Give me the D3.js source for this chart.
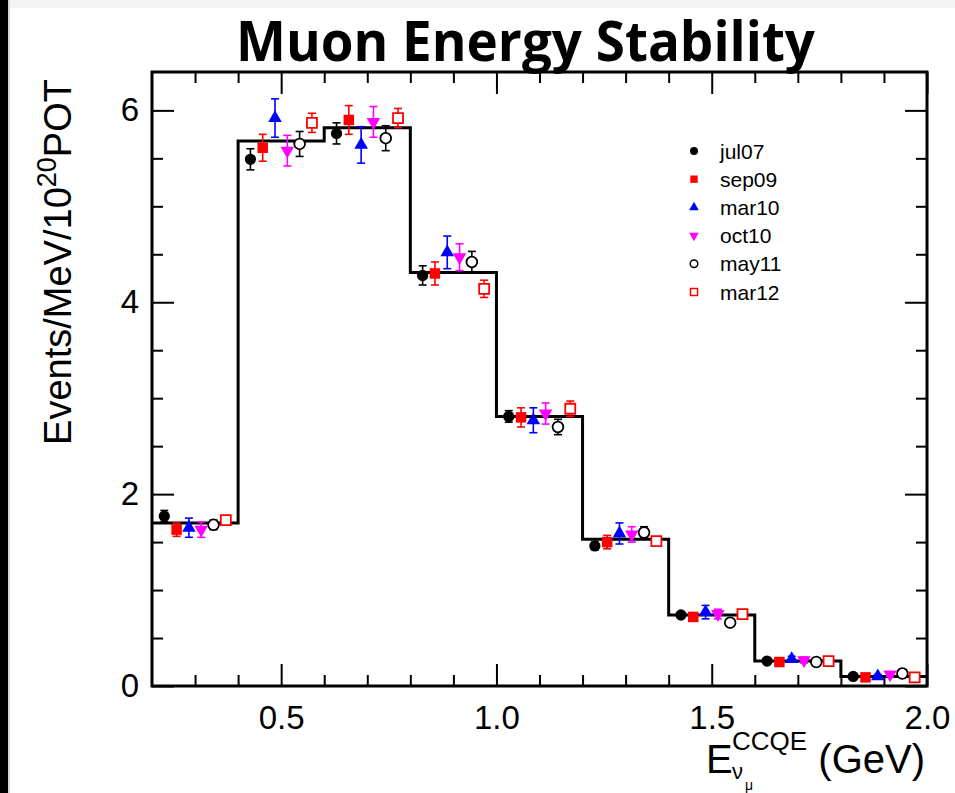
<!DOCTYPE html>
<html>
<head>
<meta charset="utf-8">
<script src="https://cdn.jsdelivr.net/npm/d3@7"></script>
<style>
  body { margin: 0; background: #fff; }
  svg text { font-family: "Liberation Sans", Arial, Helvetica, sans-serif; }
</style>
</head>
<body>
<svg id="chart" width="955" height="793"></svg>
<script>
// bin edges (GeV) and MC prediction histogram
const binEdges = [0.2, 0.4, 0.6, 0.8, 1.0, 1.2, 1.4, 1.6, 1.8, 2.0];
const mcPrediction = [1.70, 5.68, 5.82, 4.31, 2.81, 1.53, 0.74, 0.26, 0.10];

// run periods
const periods = ["jul07", "sep09", "mar10", "oct10", "may11", "mar12"];

const jul07 = [1.77, 5.49, 5.76, 4.28, 2.81, 1.46, 0.74, 0.26, 0.10];
const jul07Err = [0.06, 0.11, 0.11, 0.10, 0.06, 0.04, 0.02, 0.02, 0.02];
const sep09 = [1.63, 5.61, 5.90, 4.30, 2.80, 1.50, 0.72, 0.25, 0.09];
const sep09Err = [0.07, 0.14, 0.15, 0.12, 0.10, 0.07, 0.03, 0.02, 0.02];
const mar10 = [1.65, 5.92, 5.64, 4.52, 2.77, 1.59, 0.77, 0.28, 0.10];
const mar10Err = [0.10, 0.20, 0.19, 0.17, 0.13, 0.11, 0.07, 0.03, 0.02];
const oct10 = [1.63, 5.58, 5.88, 4.47, 2.84, 1.58, 0.75, 0.27, 0.12];
const oct10Err = [0.08, 0.16, 0.16, 0.14, 0.11, 0.08, 0.05, 0.03, 0.02];
const may11 = [1.68, 5.65, 5.71, 4.42, 2.70, 1.60, 0.66, 0.25, 0.13];
const may11Err = [0.05, 0.13, 0.13, 0.11, 0.08, 0.06, 0.02, 0.02, 0.02];
const mar12 = [1.73, 5.87, 5.92, 4.14, 2.89, 1.51, 0.75, 0.26, 0.09];
const mar12Err = [0.03, 0.10, 0.10, 0.09, 0.08, 0.03, 0.02, 0.02, 0.02];

const xMajor = [0.5, 1.0, 1.5, 2.0];
const xMinor = [0.3, 0.4, 0.6, 0.7, 0.8, 0.9, 1.1, 1.2, 1.3, 1.4, 1.6, 1.7, 1.8, 1.9];
const yMajor = [0, 2, 4, 6];
const yMinor = [0.5, 1, 1.5, 2.5, 3, 3.5, 4.5, 5, 5.5];

const seriesValues = [jul07, sep09, mar10, oct10, may11, mar12];
const seriesErrors = [jul07Err, sep09Err, mar10Err, oct10Err, may11Err, mar12Err];

// marker look per period
const styles = [
  {color: "#000", symbol: d3.symbolCircle, size: 100, fill: true, rot: 0},
  {color: "#ff0000", symbol: d3.symbolSquare, size: 110, fill: true, rot: 0},
  {color: "#0000ff", symbol: d3.symbolTriangle, size: 80, fill: true, rot: 0},
  {color: "#ff00ff", symbol: d3.symbolTriangle, size: 80, fill: true, rot: 180},
  {color: "#000", symbol: d3.symbolCircle, size: 90, fill: false, rot: 0},
  {color: "#ff0000", symbol: d3.symbolSquare, size: 100, fill: false, rot: 0}
];

const svg = d3.select("#chart");

// slide edges
svg.append("rect").attr("x", 0).attr("y", 0).attr("width", 955).attr("height", 8).attr("fill", "#f3f3f3");
svg.append("rect").attr("x", 0).attr("y", 0).attr("width", 8).attr("height", 793).attr("fill", "#000");
svg.append("rect").attr("x", 8).attr("y", 0).attr("width", 2).attr("height", 793).attr("fill", "#d8d8d8");

const plotL = 152, plotR = 927, plotT = 72, plotB = 686;

const x = d3.scaleLinear().domain([0.2, 2.0]).range([plotL, plotR]);
const y = d3.scaleLinear().domain([0, 6.4]).range([plotB, plotT]);

// title
svg.append("text")
  .attr("x", 236).attr("y", 61)
  .attr("textLength", 579).attr("lengthAdjust", "spacingAndGlyphs")
  .style("font-family", "'Open Sans', sans-serif")
  .style("font-weight", "bold")
  .style("font-size", "56px")
  .text("Muon Energy Stability");

// axes: ticks on all four sides, pointing inward
function styleAxis(g) {
  g.select(".domain").remove();
  g.selectAll(".tick line").attr("stroke", "#000").attr("stroke-width", 2);
  g.selectAll("text").attr("fill", "#000").style("font-family", "'Liberation Sans', Arial, sans-serif");
}

svg.append("g").attr("transform", `translate(0,${plotB})`)
  .call(d3.axisBottom(x).tickValues(xMajor).tickSize(-22).tickPadding(20).tickFormat(d3.format(".1f")))
  .call(styleAxis)
  .selectAll("text").style("font-size", "33px");
svg.append("g").attr("transform", `translate(0,${plotB})`)
  .call(d3.axisBottom(x).tickValues(xMinor).tickSize(-11).tickFormat(""))
  .call(styleAxis);
svg.append("g").attr("transform", `translate(0,${plotT})`)
  .call(d3.axisTop(x).tickValues(xMajor).tickSize(-22).tickFormat(""))
  .call(styleAxis);
svg.append("g").attr("transform", `translate(0,${plotT})`)
  .call(d3.axisTop(x).tickValues(xMinor).tickSize(-11).tickFormat(""))
  .call(styleAxis);

svg.append("g").attr("transform", `translate(${plotL},0)`)
  .call(d3.axisLeft(y).tickValues(yMajor).tickSize(-22).tickPadding(13).tickFormat(d3.format("d")))
  .call(styleAxis)
  .selectAll("text").style("font-size", "33px");
svg.append("g").attr("transform", `translate(${plotL},0)`)
  .call(d3.axisLeft(y).tickValues(yMinor).tickSize(-11).tickFormat(""))
  .call(styleAxis);
svg.append("g").attr("transform", `translate(${plotR},0)`)
  .call(d3.axisRight(y).tickValues(yMajor).tickSize(-22).tickFormat(""))
  .call(styleAxis);
svg.append("g").attr("transform", `translate(${plotR},0)`)
  .call(d3.axisRight(y).tickValues(yMinor).tickSize(-11).tickFormat(""))
  .call(styleAxis);

// MC histogram
const histPts = mcPrediction.map((v, i) => [binEdges[i], v]);
histPts.push([binEdges[binEdges.length - 1], mcPrediction[mcPrediction.length - 1]]);
svg.append("path")
  .datum(histPts)
  .attr("fill", "none")
  .attr("stroke", "#000")
  .attr("stroke-width", 3)
  .attr("d", d3.line().curve(d3.curveStepAfter).x(d => x(d[0])).y(d => y(d[1])));

// data points, spread across each bin
const points = [];
seriesValues.forEach((vals, s) => {
  vals.forEach((v, b) => {
    const w = binEdges[b + 1] - binEdges[b];
    points.push({s: s, e: binEdges[b] + w * (s + 1) / 7, v: v, err: seriesErrors[s][b]});
  });
});

const pg = svg.append("g");
const capHalf = 4;
points.forEach(p => {
  const st = styles[p.s];
  const cx = x(p.e);
  const g = pg.append("g").attr("stroke", st.color).attr("stroke-width", 1.6);
  g.append("line").attr("x1", cx).attr("x2", cx).attr("y1", y(p.v - p.err)).attr("y2", y(p.v + p.err));
  g.append("line").attr("x1", cx - capHalf).attr("x2", cx + capHalf).attr("y1", y(p.v + p.err)).attr("y2", y(p.v + p.err));
  g.append("line").attr("x1", cx - capHalf).attr("x2", cx + capHalf).attr("y1", y(p.v - p.err)).attr("y2", y(p.v - p.err));
  g.append("path")
    .attr("d", d3.symbol().type(st.symbol).size(st.size)())
    .attr("transform", `translate(${cx},${y(p.v)}) rotate(${st.rot})`)
    .attr("fill", st.fill ? st.color : "#fff")
    .attr("stroke", st.color)
    .attr("stroke-width", st.fill ? 0 : 1.8);
});

// legend
const leg = svg.append("g").attr("transform", "translate(694,151)");
periods.forEach((name, i) => {
  const st = styles[i];
  const row = leg.append("g").attr("transform", `translate(0,${i * 28.2})`);
  row.append("path")
    .attr("d", d3.symbol().type(st.symbol).size(st.size * 0.5)())
    .attr("transform", `rotate(${st.rot})`)
    .attr("fill", st.fill ? st.color : "#fff")
    .attr("stroke", st.color)
    .attr("stroke-width", st.fill ? 0 : 1.5);
  row.append("text").attr("x", 26).attr("y", 7.5)
    .style("font-size", "21px").attr("fill", "#000").text(name);
});

// y axis label
const yl = svg.append("text")
  .attr("transform", "translate(71,262) rotate(-90)")
  .attr("text-anchor", "middle")
  .style("font-size", "38px");
yl.append("tspan").text("Events/MeV/10");
yl.append("tspan").attr("dy", -15).style("font-size", "27px").text("20");
yl.append("tspan").attr("dy", 15).text("POT");

// x axis label
const xl = svg.append("g");
xl.append("text").attr("x", 706).attr("y", 773).style("font-size", "40px").text("E");
xl.append("text").attr("x", 732).attr("y", 750).style("font-size", "26px").text("CCQE");
xl.append("text").attr("x", 732).attr("y", 779).style("font-size", "22px").text("ν");
xl.append("text").attr("x", 745).attr("y", 790).style("font-size", "14px").text("μ");
xl.append("text").attr("x", 925).attr("y", 773).attr("text-anchor", "end").style("font-size", "40px").text("(GeV)");

// frame
svg.append("rect")
  .attr("x", plotL).attr("y", plotT)
  .attr("width", plotR - plotL).attr("height", plotB - plotT)
  .attr("fill", "none").attr("stroke", "#000").attr("stroke-width", 3);
</script>
</body>
</html>
